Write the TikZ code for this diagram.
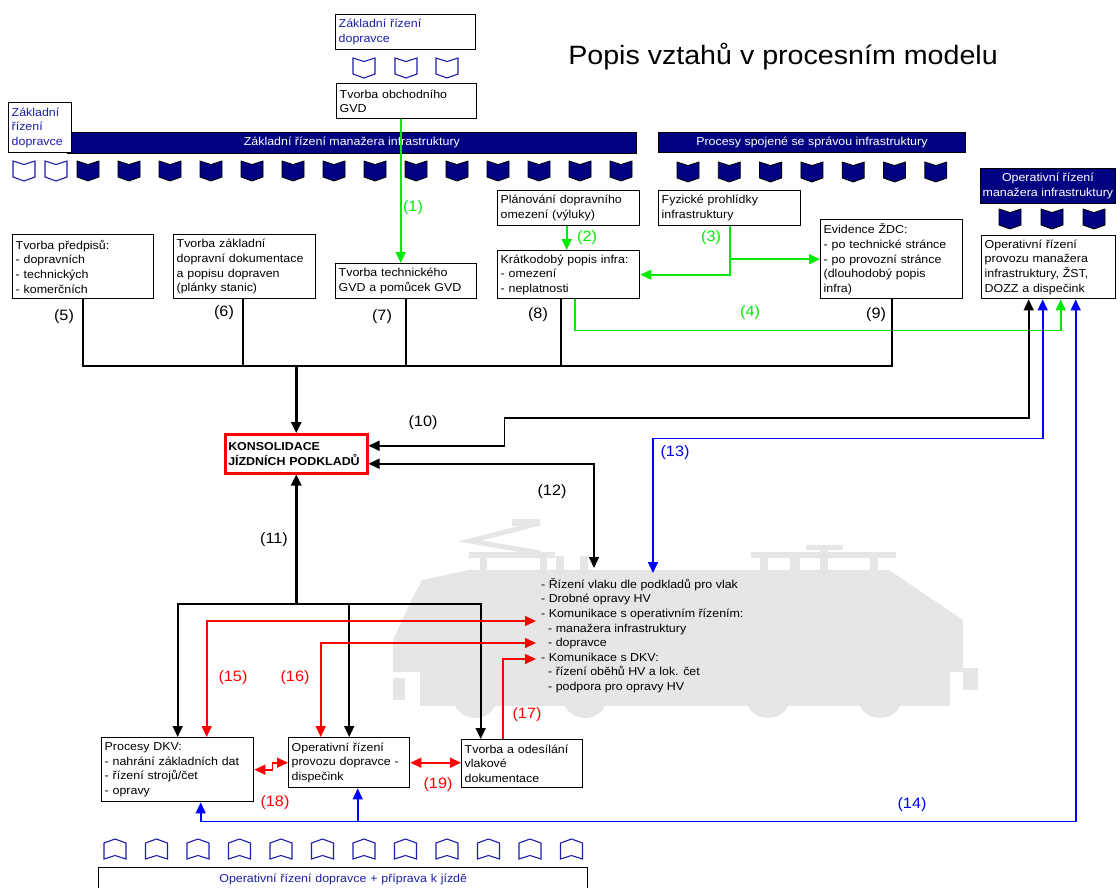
\documentclass[tikz,border=0pt]{standalone}
\usepackage{fontspec}
\setmainfont{Liberation Sans}[FakeStretch=1.08]
\usetikzlibrary{arrows.meta}

\definecolor{navybar}{RGB}{0,0,128}
\definecolor{textblue}{RGB}{30,30,170}
\definecolor{linegreen}{RGB}{0,235,0}
\definecolor{lineblue}{RGB}{0,0,255}
\definecolor{linered}{RGB}{255,0,0}
\definecolor{traingray}{RGB}{230,230,230}

\newcommand{\boxfont}{\fontsize{11.5}{14.6}\selectfont}
\newcommand{\numfont}{\fontsize{15}{18}\selectfont}

\tikzset{
  box/.style={draw=black, line width=1.4pt, fill=white, anchor=north west, align=left, inner xsep=3pt, inner ysep=1pt, font=\boxfont},
  navybox/.style={draw=black, line width=0.8pt, fill=navybar, text=white, anchor=north west, align=center, inner sep=1pt, font=\boxfont},
  conn/.style={line width=1.6pt, black},
  greenline/.style={line width=1.6pt, linegreen},
  blueline/.style={line width=1.6pt, lineblue},
  redline/.style={line width=1.6pt, linered},
  endtip/.style={-{Triangle[length=11pt,width=10pt]}},
  bothtips/.style={{Triangle[length=11pt,width=10pt]}-{Triangle[length=11pt,width=10pt]}},
  numlabel/.style={font=\numfont, inner sep=0pt},
  chevdown/.pic={\path[pic actions] (-11,-10) -- (0,-6.5) -- (11,-10) -- (11,6) -- (0,10) -- (-11,6) -- cycle;},
  chevup/.pic={\path[pic actions] (-11,10) -- (0,6.5) -- (11,10) -- (11,-6) -- (0,-10) -- (-11,-6) -- cycle;},
  openchev/.style={draw=textblue, fill=white, line width=1.1pt},
  navychev/.style={draw=black, fill=navybar, line width=0.8pt}
}

\begin{document}
\begin{tikzpicture}[x=1pt, y=-1pt]
\useasboundingbox (0,0) rectangle (1120,887);

% lokomotiva v pozadi
\fill[traingray] (469,570) -- (889,570) -- (963,620) -- (963,672) -- (393,672) -- (393,640) -- (410,603) -- (422,580) -- cycle;
\fill[traingray] (420,668) rectangle (950,706);
\foreach \wx in {475,585,768,880} \fill[traingray] (\wx,695) circle[radius=23pt];
\fill[traingray] (393,678) rectangle (405,700);
\fill[traingray] (963,668) rectangle (978,690);
\fill[traingray] (469,552) rectangle (555,558);
\fill[traingray] (480,558) rectangle (487,570);
\fill[traingray] (540,558) rectangle (547,570);
\fill[traingray] (556,556) rectangle (564,570);
\fill[traingray] (580,556) rectangle (588,570);
\draw[traingray, line width=5pt] (536,524) -- (470,541) -- (540,553);
\fill[traingray] (512,519) rectangle (540,526);
\fill[traingray] (751,552) rectangle (896,558);
\fill[traingray] (806,545) rectangle (843,550);
\fill[traingray] (760,558) rectangle (768,570);
\fill[traingray] (790,558) rectangle (800,570);
\fill[traingray] (820,548) rectangle (828,570);
\fill[traingray] (870,558) rectangle (878,570);

\node[font=\fontsize{26.5}{30}\selectfont, inner sep=0pt] (titulek) at (783,57) {Popis vztahů v procesním modelu};

\node[box, text=textblue, text width=134pt, minimum height=35pt] (zrDopr) at (335,14) {Základní řízení\\dopravce};
\foreach \cx in {364,406,447} \pic[openchev] at (\cx,68) {chevdown};
\node[box, text width=134pt, minimum height=35pt] (obchGVD) at (336,83) {Tvorba obchodního\\GVD};

\node[navybox, minimum width=569pt, minimum height=21pt] (barZM) at (67,132) {Základní řízení manažera infrastruktury};
\node[box, text=textblue, text width=57pt, minimum height=50pt] (zrDoprL) at (8,102) {Základní\\řízení\\dopravce};
\foreach \cx in {24,56} \pic[openchev] at (\cx,171) {chevdown};
\foreach \i in {0,...,13} \pic[navychev] at (88+41*\i,171) {chevdown};

\node[navybox, minimum width=307pt, minimum height=20pt] (barSpr) at (658,132) {Procesy spojené se správou infrastruktury};
\foreach \i in {0,...,6} \pic[navychev] at (688+41.3*\i,172) {chevdown};

\node[navybox, minimum width=135pt, minimum height=35pt] (opMI) at (980,168) {Operativní řízení\\manažera infrastruktury};
\foreach \cx in {1010,1052,1094} \pic[navychev] at (\cx,219) {chevdown};

\node[box, text width=136pt, minimum height=35pt] (planOm) at (497,190) {Plánování dopravního\\omezení (výluky)};
\node[box, text width=136pt, minimum height=35pt] (fyzProh) at (658,190) {Fyzické prohlídky\\infrastruktury};
\node[box, text width=136pt, minimum height=48pt] (kratkPopis) at (497,250) {Krátkodobý popis infra:\\- omezení\\- neplatnosti};
\node[box, text width=136pt, minimum height=79pt] (evidZDC) at (820,219) {Evidence ŽDC:\\- po technické stránce\\- po provozní stránce\\(dlouhodobý popis\\infra)};
\node[box, text width=128pt, minimum height=63pt] (opMIbox) at (981,235) {Operativní řízení\\provozu manažera\\infrastruktury, ŽST,\\DOZZ a dispečink};

\node[box, text width=135pt, minimum height=64pt] (tvPredp) at (12,234) {Tvorba předpisů:\\- dopravních\\- technických\\- komerčních};
\node[box, text width=136pt, minimum height=64pt] (tvZakl) at (173,234) {Tvorba základní\\dopravní dokumentace\\a popisu dopraven\\(plánky stanic)};
\node[box, text width=135pt, minimum height=35pt] (tvTechGVD) at (335,263) {Tvorba technického\\GVD a pomůcek GVD};

\node[box, draw=linered, line width=2.5pt, font=\boxfont\bfseries, text width=136pt, minimum height=39pt] (konsol) at (224,433) {KONSOLIDACE\\JÍZDNÍCH PODKLADŮ};

\node[font=\boxfont, align=left, anchor=north west, inner sep=0pt] (vlakText) at (541,578) {- Řízení vlaku dle podkladů pro vlak\\- Drobné opravy HV\\- Komunikace s operativním řízením:\\\hspace*{7pt}- manažera infrastruktury\\\hspace*{7pt}- dopravce\\- Komunikace s DKV:\\\hspace*{7pt}- řízení oběhů HV a lok. čet\\\hspace*{7pt}- podpora pro opravy HV};

\node[box, text width=146pt, minimum height=64pt] (procDKV) at (101,737) {Procesy DKV:\\- nahrání základních dat\\- řízení strojů/čet\\- opravy};
\node[box, text width=115pt, minimum height=50pt] (opDopr) at (288,737) {Operativní řízení\\provozu dopravce -\\dispečink};
\node[box, text width=115pt, minimum height=48pt] (tvOdes) at (461,739) {Tvorba a odesílání\\vlakové\\dokumentace};

\foreach \i in {0,...,11} \pic[openchev] at (115+41.5*\i,849) {chevup};
\node[box, text=textblue, align=center, text width=483pt, minimum height=24pt] (opDoprBar) at (98,867) {Operativní řízení dopravce + příprava k jízdě};

\coordinate (spoj) at (konsol.north |- 0,366);
\coordinate (spoj2) at (konsol.south |- 0,604);
\coordinate (vlak12) at (594,568);
\coordinate (vlak13) at (653,573);
\coordinate (vlak15) at (536,621);
\coordinate (vlak16) at (536,643);
\coordinate (vlak17) at (536,659);

% zelene vazby
\draw[greenline, endtip] ([xshift=-6pt]obchGVD.south) -- ([xshift=-6pt]obchGVD.south |- tvTechGVD.north);
\draw[greenline, endtip] ([xshift=-2pt]planOm.south) -- ([xshift=-2pt]planOm.south |- kratkPopis.north);
\draw[greenline, endtip] (fyzProh.south) |- (evidZDC.west);
\draw[greenline, endtip] (fyzProh.south) |- (kratkPopis.east);
\draw[greenline, endtip] ([xshift=6pt]kratkPopis.south) -- ++(0,31) -| ([xshift=12pt]opMIbox.south);

% cerne vazby
\draw[conn] (tvPredp.south) |- (spoj) -| (evidZDC.south);
\foreach \n/\dx in {tvZakl/-2, tvTechGVD/0, kratkPopis/-8}
  \draw[conn] ([xshift=\dx pt]\n.south) -- ([xshift=\dx pt]\n.south |- spoj);
\draw[conn, line width=2.5pt, endtip] (spoj) -- (konsol.north);
\draw[conn, bothtips] ([yshift=8pt]konsol.east) -- ++(136,0) -- ++(0,-28) -| ([xshift=-20pt]opMIbox.south);
\draw[conn, bothtips] ([yshift=-10pt]konsol.east) -| (vlak12);
\draw[conn, line width=2.5pt, endtip] (spoj2) -- (konsol.south);
\draw[conn, endtip] (spoj2) -| (procDKV.north);
\draw[conn, endtip] (spoj2) -| (opDopr.north);
\draw[conn, endtip] (spoj2) -| ([xshift=-41.5pt]tvOdes.north);

% modre vazby
\draw[blueline, bothtips] ([xshift=-6pt]opMIbox.south) -- ++(0,139) -| (vlak13);
\draw[blueline, bothtips] ([xshift=27pt]opMIbox.south) -- ++(0,522) -| ([xshift=23pt]procDKV.south);
\draw[blueline, endtip] ([xshift=8.5pt]opDopr.south) ++(0,33) -- ([xshift=8.5pt]opDopr.south);

% cervene vazby
\draw[redline, bothtips] ([xshift=29pt]procDKV.north) |- (vlak15);
\draw[redline, bothtips] ([xshift=-28.5pt]opDopr.north) |- (vlak16);
\draw[redline, endtip] ([xshift=-19.5pt]tvOdes.north) |- (vlak17);
\draw[redline, bothtips] (procDKV.east) -- ++(18,0) -- ++(0,-7) -- (opDopr.west);
\draw[redline, bothtips] (opDopr.east) -- (opDopr.east -| tvOdes.west);

\node[numlabel, text=linegreen] (n1) at (413,208) {(1)};
\node[numlabel, text=linegreen] (n2) at (587,238) {(2)};
\node[numlabel, text=linegreen] (n3) at (711,238) {(3)};
\node[numlabel, text=linegreen] (n4) at (750,313) {(4)};
\node[numlabel] (n5) at (64,317) {(5)};
\node[numlabel] (n6) at (224,313) {(6)};
\node[numlabel] (n7) at (382,317) {(7)};
\node[numlabel] (n8) at (538,315) {(8)};
\node[numlabel] (n9) at (876,315) {(9)};
\node[numlabel] (n10) at (423,423) {(10)};
\node[numlabel] (n11) at (274,540) {(11)};
\node[numlabel] (n12) at (552,492) {(12)};
\node[numlabel, text=lineblue] (n13) at (675,453) {(13)};
\node[numlabel, text=lineblue] (n14) at (912,805) {(14)};
\node[numlabel, text=linered] (n15) at (233,678) {(15)};
\node[numlabel, text=linered] (n16) at (295,678) {(16)};
\node[numlabel, text=linered] (n17) at (527,715) {(17)};
\node[numlabel, text=linered] (n18) at (275,803) {(18)};
\node[numlabel, text=linered] (n19) at (438,785) {(19)};

\end{tikzpicture}
\end{document}
